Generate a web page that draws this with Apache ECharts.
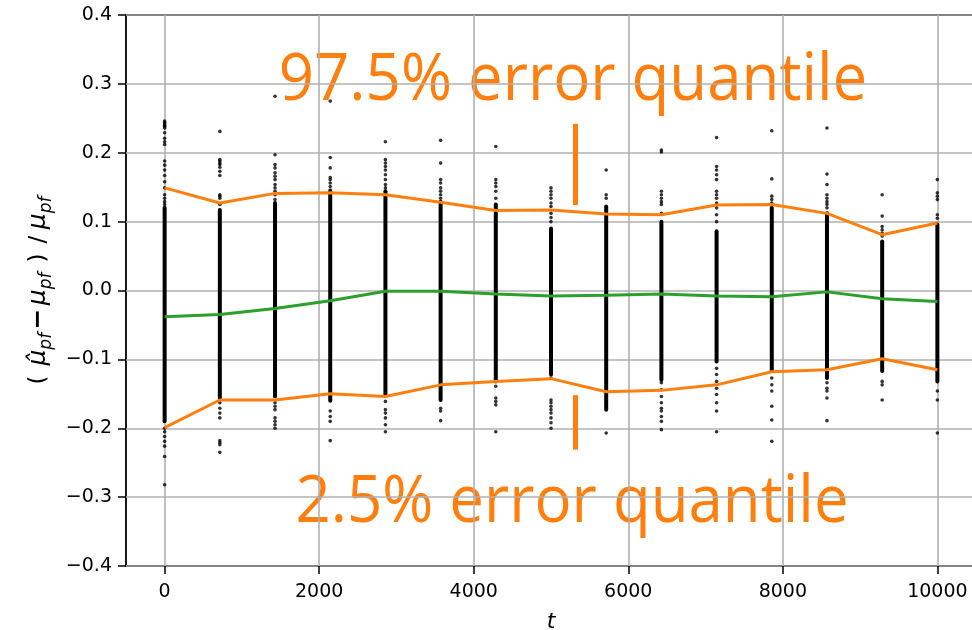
<!DOCTYPE html>
<html>
<head>
<meta charset="utf-8">
<script src="https://cdn.jsdelivr.net/npm/echarts@6/dist/echarts.min.js"></script>
<style>
  html, body { margin: 0; padding: 0; background: #fff; }
  #chart { width: 972px; height: 630px; }
</style>
</head>
<body>
<div id="chart"></div>
<script>
// Sampling times (15 evaluation steps from 0 to 10000)
const times = [0, 714.29, 1428.57, 2142.86, 2857.14, 3571.43, 4285.71, 5000,
               5714.29, 6428.57, 7142.86, 7857.14, 8571.43, 9285.71, 10000];

// Dense core of the relative errors at each step (low / high end)
const coreLow  = [-0.190, -0.156, -0.154, -0.160, -0.151, -0.159, -0.132, -0.122,
                  -0.173, -0.130, -0.103, -0.117, -0.127, -0.117, -0.132];
const coreHigh = [0.120, 0.117, 0.127, 0.144, 0.144, 0.129, 0.125, 0.090,
                  0.122, 0.100, 0.086, 0.120, 0.112, 0.071, 0.096];

// Individual relative errors outside the dense core, one list per step
const sparseErrors = [
  [0.246, 0.244, 0.242, 0.240, 0.238, 0.236, 0.229, 0.221, 0.216, 0.212, 0.188, 0.182, 0.175, 0.167, 0.158, 0.149, 0.139, 0.134, 0.129, 0.125,
   -0.200, -0.205, -0.212, -0.219, -0.226, -0.241, -0.282],
  [0.231, 0.190, 0.188, 0.185, 0.183, 0.179, 0.173, 0.167, 0.139, 0.137, 0.134, 0.125,
   -0.163, -0.171, -0.178, -0.185, -0.218, -0.221, -0.224, -0.235],
  [0.282, 0.197, 0.183, 0.178, 0.171, 0.166, 0.161, 0.154, 0.149, 0.144, 0.139, 0.132,
   -0.163, -0.168, -0.173, -0.185, -0.190, -0.195, -0.200],
  [0.275, 0.193, 0.178, 0.164, 0.161, 0.156, 0.151, 0.146,
   -0.175, -0.183, -0.190, -0.218],
  [0.216, 0.190, 0.185, 0.180, 0.175, 0.168, 0.161, 0.154, 0.149,
   -0.161, -0.173, -0.178, -0.185, -0.195, -0.205],
  [0.218, 0.185, 0.161, 0.156, 0.149, 0.144, 0.139, 0.134,
   -0.171, -0.175, -0.189],
  [0.209, 0.161, 0.156, 0.151, 0.144, 0.134,
   -0.139, -0.156, -0.161, -0.166, -0.205],
  [0.149, 0.144, 0.139, 0.134, 0.127, 0.122, 0.112, 0.106, 0.100,
   -0.127, -0.159, -0.163, -0.168, -0.173, -0.178, -0.185, -0.192, -0.200],
  [0.175, 0.139, 0.134,
   -0.207],
  [0.204, 0.201, 0.144, 0.139, 0.134, 0.129, 0.125, 0.112,
   -0.134, -0.144, -0.154, -0.163, -0.171, -0.175, -0.183, -0.190, -0.202],
  [0.222, 0.180, 0.175, 0.168, 0.161, 0.144, 0.139, 0.134, 0.127, 0.120, 0.110, 0.100,
   -0.113, -0.122, -0.132, -0.142, -0.151, -0.163, -0.175, -0.205],
  [0.232, 0.162, 0.137, 0.132, 0.127,
   -0.127, -0.137, -0.146, -0.168, -0.188, -0.219],
  [0.236, 0.169, 0.154, 0.139, 0.134, 0.129, 0.125, 0.120,
   -0.134, -0.142, -0.146, -0.156, -0.189],
  [0.139, 0.108, 0.093, 0.088, 0.083, 0.079,
   -0.132, -0.137, -0.159],
  [0.161, 0.142, 0.137, 0.132, 0.110, 0.105,
   -0.146, -0.159, -0.207]
];

// Error quantiles and median per step
const upperQuantile = [0.149, 0.127, 0.141, 0.142, 0.139, 0.128, 0.116, 0.117,
                       0.111, 0.110, 0.124, 0.125, 0.112, 0.081, 0.098];
const medianError   = [-0.038, -0.035, -0.026, -0.015, -0.001, -0.001, -0.005, -0.008,
                       -0.007, -0.005, -0.008, -0.009, -0.002, -0.012, -0.016];
const lowerQuantile = [-0.199, -0.159, -0.159, -0.150, -0.154, -0.137, -0.132, -0.128,
                       -0.147, -0.145, -0.137, -0.118, -0.115, -0.099, -0.115];

// Pointer strokes from the captions to the quantile curves
const pointerT = 5320;
const upperPointer = [0.242, 0.124];
const lowerPointer = [-0.152, -0.231];

const xTicks = [0, 2000, 4000, 6000, 8000, 10000];

const ORANGE = '#ff7f0e';
const GREEN = '#2ca02c';
const GRID = '#b0b0b0';
const TICK_FONT = 'DejaVu Sans';

const coreData = times.map((t, i) => [t, coreLow[i], coreHigh[i]]);
const dotData = [];
sparseErrors.forEach((list, i) => list.forEach(v => dotData.push([times[i], v])));

const fmtY = v => {
  const s = Math.abs(v).toFixed(1);
  return v < -1e-9 ? '\u2212' + s : s;
};

const chart = echarts.init(document.getElementById('chart'), null, { renderer: 'canvas' });

chart.setOption({
  animation: false,
  backgroundColor: '#ffffff',
  grid: {
    left: 126, top: 15, width: 850, height: 551,
    outerBoundsMode: 'none', containLabel: false,
    show: true, borderColor: '#000', borderWidth: 1.8, backgroundColor: 'transparent'
  },
  xAxis: {
    type: 'value',
    min: -500, max: 10500,
    name: 't',
    nameLocation: 'middle',
    nameGap: 45,
    nameTextStyle: { fontFamily: TICK_FONT, fontStyle: 'italic', fontSize: 22, color: '#000' },
    axisLine: { show: false, onZero: false },
    axisTick: { show: true, length: 8, lineStyle: { color: '#000', width: 1.5 }, customValues: xTicks },
    axisLabel: {
      show: true, customValues: xTicks, margin: 17,
      fontFamily: TICK_FONT, fontSize: 19, color: '#000',
      formatter: v => String(Math.round(v))
    },
    splitLine: { show: true, lineStyle: { color: GRID, width: 1.6 } }
  },
  yAxis: {
    type: 'value',
    min: -0.4, max: 0.4, interval: 0.1,
    name: '{p|(}   {mu|\u03BC\u0302}{s|pf} {m|\u2212} {mu|\u03BC}{s|pf}   {p|)}   {p|/}  {mu|\u03BC}{s|pf}',
    nameLocation: 'middle',
    nameRotate: 90,
    nameGap: 68,
    nameTextStyle: {
      color: '#000',
      rich: {
        p:  { fontFamily: TICK_FONT, fontSize: 23, color: '#000', lineHeight: 32, verticalAlign: 'middle' },
        mu: { fontFamily: TICK_FONT, fontSize: 25, fontStyle: 'italic', color: '#000', lineHeight: 32, verticalAlign: 'middle' },
        s:  { fontFamily: TICK_FONT, fontSize: 17, fontStyle: 'italic', color: '#000', lineHeight: 32, verticalAlign: 'bottom' },
        m:  { fontFamily: TICK_FONT, fontSize: 25, fontWeight: 'bold', color: '#000', lineHeight: 32, verticalAlign: 'middle' }
      }
    },
    axisLine: { show: false, onZero: false },
    axisTick: { show: true, length: 8, lineStyle: { color: '#000', width: 1.5 } },
    axisLabel: { margin: 14, fontFamily: TICK_FONT, fontSize: 19, color: '#000', formatter: fmtY },
    splitLine: { show: true, lineStyle: { color: GRID, width: 1.6 } }
  },
  graphic: [
    {
      type: 'text', z: -1, x: 573, y: 81, scaleX: 0.95,
      style: {
        text: '97.5% error quantile', fill: ORANGE,
        font: '65px "Open Sans"',
        textAlign: 'center', textVerticalAlign: 'middle', align: 'center', verticalAlign: 'middle'
      }
    },
    {
      type: 'text', z: -1, x: 572, y: 503, scaleX: 0.95,
      style: {
        text: '2.5% error quantile', fill: ORANGE,
        font: '65px "Open Sans"',
        textAlign: 'center', textVerticalAlign: 'middle', align: 'center', verticalAlign: 'middle'
      }
    }
  ],
  series: [
    {
      name: 'core',
      type: 'custom',
      data: coreData,
      encode: { x: 0, y: [1, 2] },
      silent: true,
      z: 2,
      renderItem: (params, api) => {
        const t = api.value(0);
        const a = api.coord([t, api.value(1)]);
        const b = api.coord([t, api.value(2)]);
        return {
          type: 'line',
          shape: { x1: a[0], y1: a[1], x2: b[0], y2: b[1] },
          style: { stroke: '#000', lineWidth: 4, lineCap: 'round' }
        };
      }
    },
    {
      name: 'errors',
      type: 'scatter',
      data: dotData,
      symbol: 'circle',
      symbolSize: 3.6,
      itemStyle: { color: '#000' },
      silent: true,
      z: 2
    },
    {
      name: 'upper',
      type: 'line',
      data: times.map((t, i) => [t, upperQuantile[i]]),
      showSymbol: false,
      lineStyle: { color: ORANGE, width: 3 },
      itemStyle: { color: ORANGE },
      silent: true,
      z: 3,
      markLine: {
        silent: true,
        symbol: ['none', 'none'],
        label: { show: false },
        lineStyle: { color: ORANGE, width: 5, type: 'solid' },
        data: [
          [{ coord: [pointerT, upperPointer[0]] }, { coord: [pointerT, upperPointer[1]] }],
          [{ coord: [pointerT, lowerPointer[0]] }, { coord: [pointerT, lowerPointer[1]] }]
        ]
      }
    },
    {
      name: 'median',
      type: 'line',
      data: times.map((t, i) => [t, medianError[i]]),
      showSymbol: false,
      lineStyle: { color: GREEN, width: 3 },
      itemStyle: { color: GREEN },
      silent: true,
      z: 3
    },
    {
      name: 'lower',
      type: 'line',
      data: times.map((t, i) => [t, lowerQuantile[i]]),
      showSymbol: false,
      lineStyle: { color: ORANGE, width: 3 },
      itemStyle: { color: ORANGE },
      silent: true,
      z: 3
    }
  ]
});
</script>
</body>
</html>
